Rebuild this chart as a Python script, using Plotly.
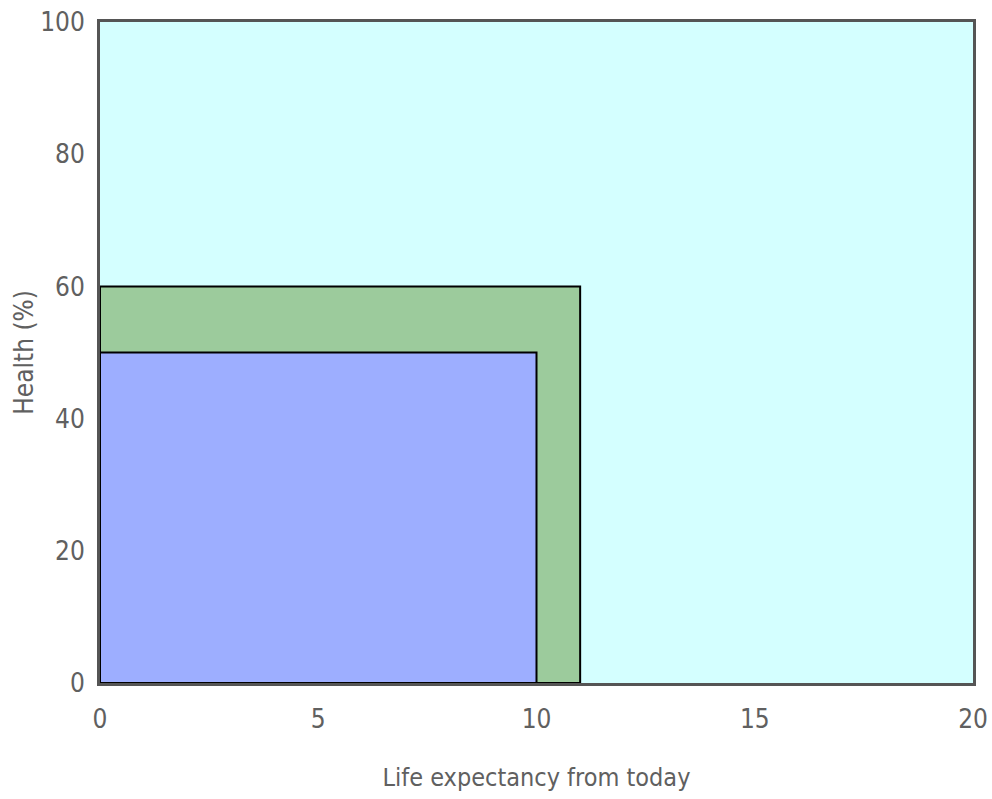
import plotly.graph_objects as go

# Data
series_names = ["Current", "Improved"]
life_years = [11, 10]      # x extent of each rectangle
health_pct = [60, 50]      # y extent of each rectangle
fill_colors = ["#9CCB9C", "#9DAEFF"]

x_ticks = [0, 5, 10, 15, 20]
y_ticks = [0, 20, 40, 60, 80, 100]

fig = go.Figure()
for name, w, h, c in zip(series_names, life_years, health_pct, fill_colors):
    fig.add_trace(go.Scatter(
        x=[0, 0, w, w, 0], y=[0, h, h, 0, 0],
        mode="lines", fill="toself", fillcolor=c,
        line=dict(color="black", width=2),
        name=name, hoverinfo="skip", showlegend=False,
    ))

font_family = "DejaVu Sans Condensed, Liberation Sans Narrow, Arial Narrow, sans-serif"
fig.update_layout(
    width=992, height=799,
    margin=dict(l=100, r=19, t=22, b=116),
    paper_bgcolor="white",
    plot_bgcolor="#D4FFFF",
    font=dict(family=font_family, size=26, color="#606060"),
    showlegend=False,
)
fig.update_xaxes(
    range=[0, 20], tickvals=x_ticks, showgrid=False, zeroline=False,
    showline=True, linecolor="#555555", linewidth=3, mirror=True,
    ticks="", ticklabelstandoff=11, ticklabeloverflow="allow",
    automargin=False,
    title=dict(text="Life expectancy from today", standoff=36,
               font=dict(size=25, color="#606060")),
)
fig.update_yaxes(
    range=[0, 100], tickvals=y_ticks, showgrid=False, zeroline=False,
    showline=True, linecolor="#555555", linewidth=3, mirror=True,
    ticks="", ticklabelstandoff=7, ticklabeloverflow="allow",
    automargin=False,
    title=dict(text="Health (%)", standoff=0,
               font=dict(size=26, color="#606060")),
)

fig.write_html(
    "out.html",
    config={"displayModeBar": False, "staticPlot": True},
    post_script="document.body.style.margin='0';document.body.style.overflow='hidden';",
)
